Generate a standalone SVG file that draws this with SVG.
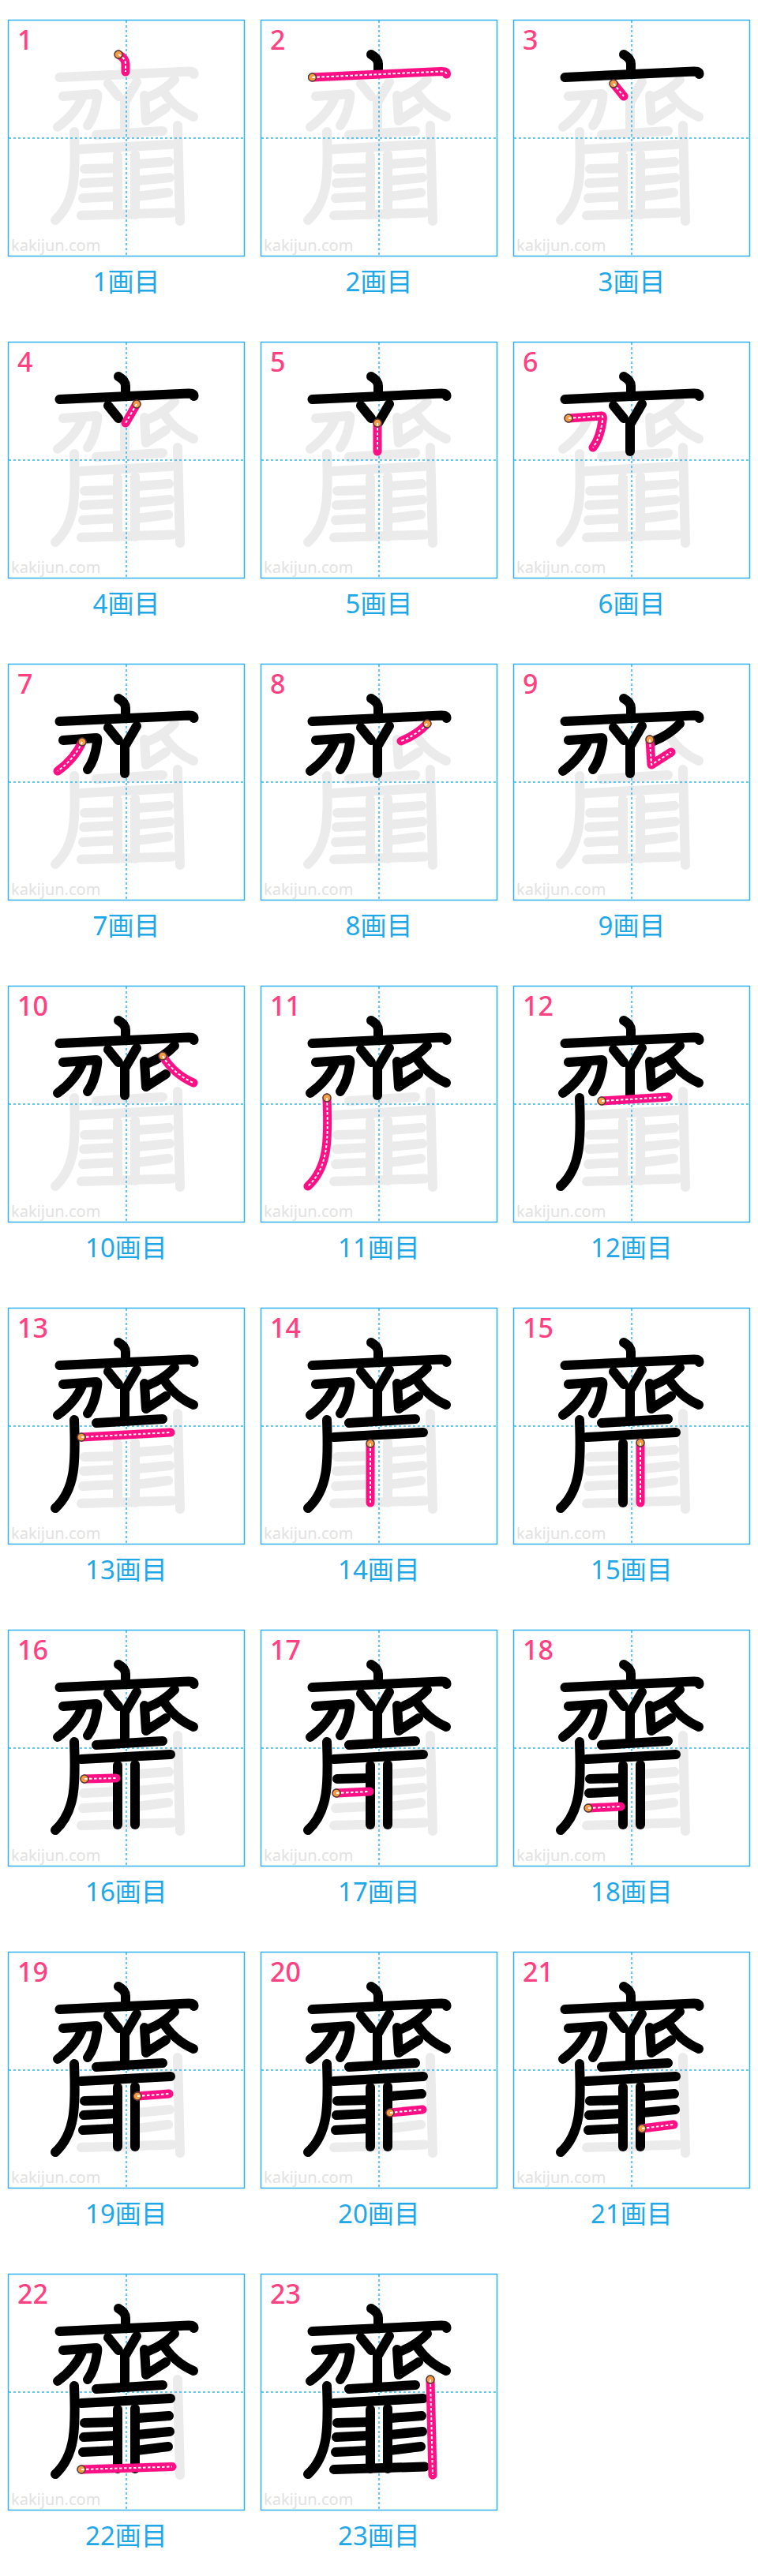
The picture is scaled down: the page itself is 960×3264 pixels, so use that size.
<svg xmlns="http://www.w3.org/2000/svg" xmlns:xlink="http://www.w3.org/1999/xlink" width="960" height="3264" viewBox="0 0 960 3264">
<style>
.box{fill:#fff;stroke:#2fb3ec;stroke-width:1.5}
.guide{fill:none;stroke:#35b8ee;stroke-width:1.5;stroke-dasharray:3 3}
.wm{font-family:"Noto Sans","Liberation Sans",sans-serif;font-size:20px;fill:#e2e2e2}
.num{font-family:"Noto Sans","Liberation Sans",sans-serif;font-size:34px;fill:#ff4081;font-weight:500}
.lab{font-family:"Noto Sans","Noto Sans CJK JP",sans-serif;font-size:33px;fill:#1ea8e8;text-anchor:middle}
.g,.k,.p,.d{fill:none;stroke-linecap:round;stroke-linejoin:round}
.g{stroke:#ebebeb;stroke-width:12}
.k{stroke:#000;stroke-width:12}
.p{stroke:#ff0f86;stroke-width:11}
.d{stroke:#fff;stroke-width:2;stroke-dasharray:3.5 2.5;stroke-linecap:butt}
.o{fill:#f59a45;stroke:#4a3a30;stroke-width:1.3}
</style>
<defs>
<path id="s1" d="M140,44 Q149,49 149,56 L149,66"/>
<path id="s2" d="M65.5,73 L229,65.5 Q235.5,65.5 235.5,69"/>
<path id="s3" d="M127,81 L140,97"/>
<path id="s4" d="M163,79 L149,103"/>
<path id="s5" d="M148,103 L148,139"/>
<path id="s6" d="M70,97 L112,94 Q114,94 113,100 Q110,122 101,134"/>
<path id="s7" d="M94,99 Q85,120 63,136"/>
<path id="s8" d="M211,76 Q198,90 178,98"/>
<path id="s9" d="M173,96 L175,128 L200,112"/>
<path id="s10" d="M196,89 Q210,112 235,123"/>
<path id="s11" d="M84,142 C86,195 86,230 60,254"/>
<path id="s12" d="M112,146 L196,141"/>
<path id="s13" d="M93,164 L206,158"/>
<path id="s14" d="M139,172 L139,247"/>
<path id="s15" d="M161,171 L161,247"/>
<path id="s16" d="M97,189 L137,188"/>
<path id="s17" d="M96,207 L138,205"/>
<path id="s18" d="M95,226 L136,224"/>
<path id="s19" d="M164,183 L204,180"/>
<path id="s20" d="M164,204 L205,200"/>
<path id="s21" d="M163,224 L203,219"/>
<path id="s22" d="M93,248 L208,244.5"/>
<path id="s23" d="M215,134 L218,255"/>
<g id="ch">
<use href="#s1"/><use href="#s2"/><use href="#s3"/><use href="#s4"/><use href="#s5"/><use href="#s6"/><use href="#s7"/><use href="#s8"/><use href="#s9"/><use href="#s10"/><use href="#s11"/><use href="#s12"/><use href="#s13"/><use href="#s14"/><use href="#s15"/><use href="#s16"/><use href="#s17"/><use href="#s18"/><use href="#s19"/><use href="#s20"/><use href="#s21"/><use href="#s22"/><use href="#s23"/>
</g>
<g id="bg">
<rect class="box" x="0.5" y="0.5" width="299" height="299"/>
<text class="wm" x="4" y="293">kakijun.com</text>
<use href="#ch" class="g"/>
<path class="guide" d="M150,1V299M1,150H299"/>
</g>
<g id="k1"><use href="#s1"/></g>
<g id="k2"><use href="#k1"/><use href="#s2"/></g>
<g id="k3"><use href="#k2"/><use href="#s3"/></g>
<g id="k4"><use href="#k3"/><use href="#s4"/></g>
<g id="k5"><use href="#k4"/><use href="#s5"/></g>
<g id="k6"><use href="#k5"/><use href="#s6"/></g>
<g id="k7"><use href="#k6"/><use href="#s7"/></g>
<g id="k8"><use href="#k7"/><use href="#s8"/></g>
<g id="k9"><use href="#k8"/><use href="#s9"/></g>
<g id="k10"><use href="#k9"/><use href="#s10"/></g>
<g id="k11"><use href="#k10"/><use href="#s11"/></g>
<g id="k12"><use href="#k11"/><use href="#s12"/></g>
<g id="k13"><use href="#k12"/><use href="#s13"/></g>
<g id="k14"><use href="#k13"/><use href="#s14"/></g>
<g id="k15"><use href="#k14"/><use href="#s15"/></g>
<g id="k16"><use href="#k15"/><use href="#s16"/></g>
<g id="k17"><use href="#k16"/><use href="#s17"/></g>
<g id="k18"><use href="#k17"/><use href="#s18"/></g>
<g id="k19"><use href="#k18"/><use href="#s19"/></g>
<g id="k20"><use href="#k19"/><use href="#s20"/></g>
<g id="k21"><use href="#k20"/><use href="#s21"/></g>
<g id="k22"><use href="#k21"/><use href="#s22"/></g>
</defs>
<rect width="960" height="3264" fill="#fff"/>
<g id="cell-1" transform="translate(10,25)"><use href="#bg"/><use href="#s1" class="p"/><circle class="o" cx="140" cy="44" r="5"/><use href="#s1" class="d"/><text class="num" x="12" y="38">1</text><text class="lab" x="150" y="344">1画目</text></g>
<g id="cell-2" transform="translate(330,25)"><use href="#bg"/><use href="#k1" class="k"/><use href="#s2" class="p"/><circle class="o" cx="65.5" cy="73" r="5"/><use href="#s2" class="d"/><text class="num" x="12" y="38">2</text><text class="lab" x="150" y="344">2画目</text></g>
<g id="cell-3" transform="translate(650,25)"><use href="#bg"/><use href="#k2" class="k"/><use href="#s3" class="p"/><circle class="o" cx="127" cy="81" r="5"/><use href="#s3" class="d"/><text class="num" x="12" y="38">3</text><text class="lab" x="150" y="344">3画目</text></g>
<g id="cell-4" transform="translate(10,433)"><use href="#bg"/><use href="#k3" class="k"/><use href="#s4" class="p"/><circle class="o" cx="163" cy="79" r="5"/><use href="#s4" class="d"/><text class="num" x="12" y="38">4</text><text class="lab" x="150" y="344">4画目</text></g>
<g id="cell-5" transform="translate(330,433)"><use href="#bg"/><use href="#k4" class="k"/><use href="#s5" class="p"/><circle class="o" cx="148" cy="103" r="5"/><use href="#s5" class="d"/><text class="num" x="12" y="38">5</text><text class="lab" x="150" y="344">5画目</text></g>
<g id="cell-6" transform="translate(650,433)"><use href="#bg"/><use href="#k5" class="k"/><use href="#s6" class="p"/><circle class="o" cx="70" cy="97" r="5"/><use href="#s6" class="d"/><text class="num" x="12" y="38">6</text><text class="lab" x="150" y="344">6画目</text></g>
<g id="cell-7" transform="translate(10,841)"><use href="#bg"/><use href="#k6" class="k"/><use href="#s7" class="p"/><circle class="o" cx="94" cy="99" r="5"/><use href="#s7" class="d"/><text class="num" x="12" y="38">7</text><text class="lab" x="150" y="344">7画目</text></g>
<g id="cell-8" transform="translate(330,841)"><use href="#bg"/><use href="#k7" class="k"/><use href="#s8" class="p"/><circle class="o" cx="211" cy="76" r="5"/><use href="#s8" class="d"/><text class="num" x="12" y="38">8</text><text class="lab" x="150" y="344">8画目</text></g>
<g id="cell-9" transform="translate(650,841)"><use href="#bg"/><use href="#k8" class="k"/><use href="#s9" class="p"/><circle class="o" cx="173" cy="96" r="5"/><use href="#s9" class="d"/><text class="num" x="12" y="38">9</text><text class="lab" x="150" y="344">9画目</text></g>
<g id="cell-10" transform="translate(10,1249)"><use href="#bg"/><use href="#k9" class="k"/><use href="#s10" class="p"/><circle class="o" cx="196" cy="89" r="5"/><use href="#s10" class="d"/><text class="num" x="12" y="38">10</text><text class="lab" x="150" y="344">10画目</text></g>
<g id="cell-11" transform="translate(330,1249)"><use href="#bg"/><use href="#k10" class="k"/><use href="#s11" class="p"/><circle class="o" cx="84" cy="142" r="5"/><use href="#s11" class="d"/><text class="num" x="12" y="38">11</text><text class="lab" x="150" y="344">11画目</text></g>
<g id="cell-12" transform="translate(650,1249)"><use href="#bg"/><use href="#k11" class="k"/><use href="#s12" class="p"/><circle class="o" cx="112" cy="146" r="5"/><use href="#s12" class="d"/><text class="num" x="12" y="38">12</text><text class="lab" x="150" y="344">12画目</text></g>
<g id="cell-13" transform="translate(10,1657)"><use href="#bg"/><use href="#k12" class="k"/><use href="#s13" class="p"/><circle class="o" cx="93" cy="164" r="5"/><use href="#s13" class="d"/><text class="num" x="12" y="38">13</text><text class="lab" x="150" y="344">13画目</text></g>
<g id="cell-14" transform="translate(330,1657)"><use href="#bg"/><use href="#k13" class="k"/><use href="#s14" class="p"/><circle class="o" cx="139" cy="172" r="5"/><use href="#s14" class="d"/><text class="num" x="12" y="38">14</text><text class="lab" x="150" y="344">14画目</text></g>
<g id="cell-15" transform="translate(650,1657)"><use href="#bg"/><use href="#k14" class="k"/><use href="#s15" class="p"/><circle class="o" cx="161" cy="171" r="5"/><use href="#s15" class="d"/><text class="num" x="12" y="38">15</text><text class="lab" x="150" y="344">15画目</text></g>
<g id="cell-16" transform="translate(10,2065)"><use href="#bg"/><use href="#k15" class="k"/><use href="#s16" class="p"/><circle class="o" cx="97" cy="189" r="5"/><use href="#s16" class="d"/><text class="num" x="12" y="38">16</text><text class="lab" x="150" y="344">16画目</text></g>
<g id="cell-17" transform="translate(330,2065)"><use href="#bg"/><use href="#k16" class="k"/><use href="#s17" class="p"/><circle class="o" cx="96" cy="207" r="5"/><use href="#s17" class="d"/><text class="num" x="12" y="38">17</text><text class="lab" x="150" y="344">17画目</text></g>
<g id="cell-18" transform="translate(650,2065)"><use href="#bg"/><use href="#k17" class="k"/><use href="#s18" class="p"/><circle class="o" cx="95" cy="226" r="5"/><use href="#s18" class="d"/><text class="num" x="12" y="38">18</text><text class="lab" x="150" y="344">18画目</text></g>
<g id="cell-19" transform="translate(10,2473)"><use href="#bg"/><use href="#k18" class="k"/><use href="#s19" class="p"/><circle class="o" cx="164" cy="183" r="5"/><use href="#s19" class="d"/><text class="num" x="12" y="38">19</text><text class="lab" x="150" y="344">19画目</text></g>
<g id="cell-20" transform="translate(330,2473)"><use href="#bg"/><use href="#k19" class="k"/><use href="#s20" class="p"/><circle class="o" cx="164" cy="204" r="5"/><use href="#s20" class="d"/><text class="num" x="12" y="38">20</text><text class="lab" x="150" y="344">20画目</text></g>
<g id="cell-21" transform="translate(650,2473)"><use href="#bg"/><use href="#k20" class="k"/><use href="#s21" class="p"/><circle class="o" cx="163" cy="224" r="5"/><use href="#s21" class="d"/><text class="num" x="12" y="38">21</text><text class="lab" x="150" y="344">21画目</text></g>
<g id="cell-22" transform="translate(10,2881)"><use href="#bg"/><use href="#k21" class="k"/><use href="#s22" class="p"/><circle class="o" cx="93" cy="248" r="5"/><use href="#s22" class="d"/><text class="num" x="12" y="38">22</text><text class="lab" x="150" y="344">22画目</text></g>
<g id="cell-23" transform="translate(330,2881)"><use href="#bg"/><use href="#k22" class="k"/><use href="#s23" class="p"/><circle class="o" cx="215" cy="134" r="5"/><use href="#s23" class="d"/><text class="num" x="12" y="38">23</text><text class="lab" x="150" y="344">23画目</text></g>
</svg>
